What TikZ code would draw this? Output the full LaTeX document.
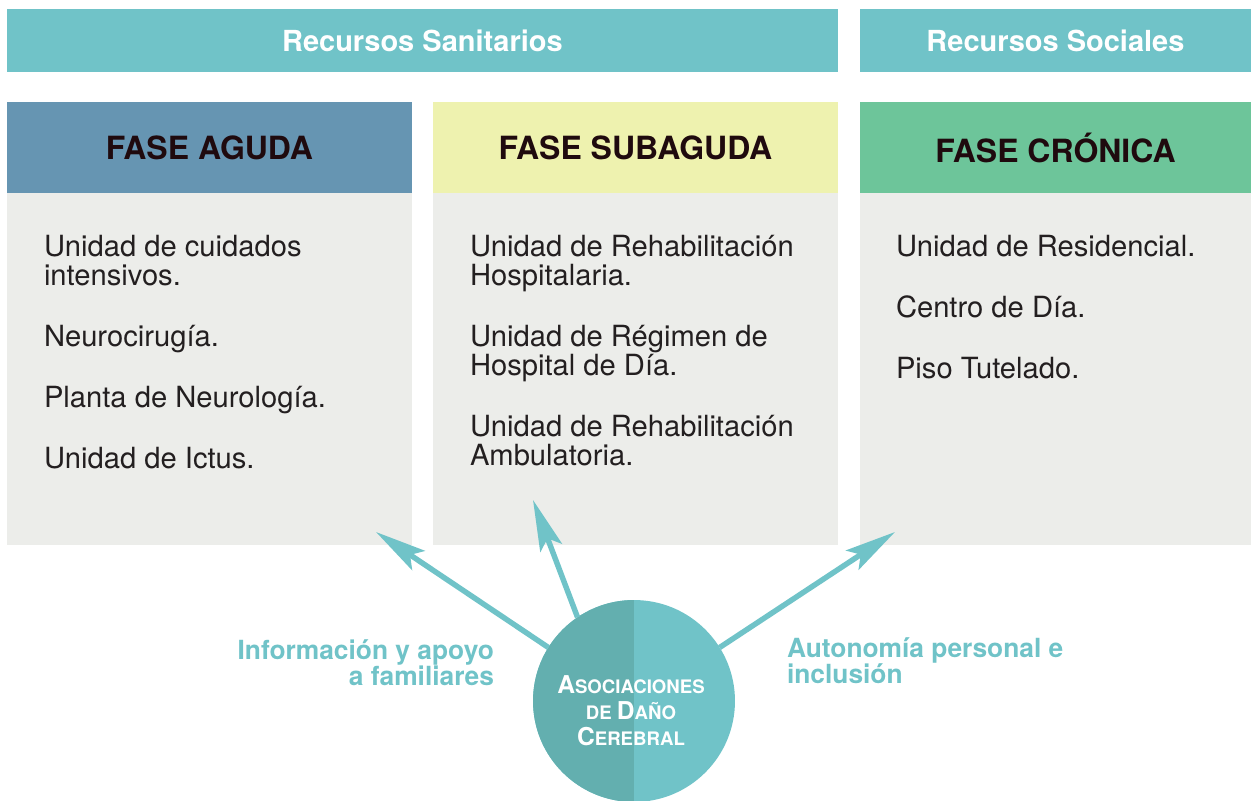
\documentclass[tikz,border=0pt]{standalone}
\usepackage{fontspec}
\setmainfont{TeX Gyre Heros}
\usetikzlibrary{arrows.meta}
\definecolor{barteal}{HTML}{70C3C8}
\definecolor{asocdark}{HTML}{63AFAF}
\definecolor{agudablue}{HTML}{6695B2}
\definecolor{subyellow}{HTML}{EEF2AF}
\definecolor{cronigreen}{HTML}{6DC59A}
\definecolor{bodygray}{HTML}{ECEDEA}
\definecolor{headink}{HTML}{1F0A0E}
\definecolor{bodyink}{HTML}{231F20}
\newcommand\scword[2]{{\fontsize{14}{14.8}\selectfont #1}{\fontsize{10.6}{14.8}\selectfont #2}}

\begin{document}
\begin{tikzpicture}[x=0.02cm,y=-0.02cm,
    every node/.style={inner sep=0pt,outer sep=0pt},
    bar/.style={fill=barteal,text=white,anchor=north west,minimum height=1.26cm,
        font=\fontsize{16.5}{18}\selectfont\bfseries},
    phase/.style={anchor=north west,minimum height=1.82cm,text=headink,
        font=\fontsize{18.2}{19}\selectfont\bfseries},
    panel/.style={fill=bodygray,anchor=north west,minimum height=7.04cm},
    items/.style={anchor=north west,align=left,text=bodyink,
        font=\fontsize{16.6}{16.5}\selectfont},
    side/.style={text=barteal,font=\fontsize{15}{14.8}\selectfont\bfseries},
    flow/.style={draw=barteal,line width=3.1pt,
        -{Stealth[length=1.02cm,width=0.46cm,inset=0.2cm]}}]
  \useasboundingbox (0,0) rectangle (1252,801);
  \clip (0,0) rectangle (1252,801);

  % resources
  \node[bar,minimum width=16.62cm] (sanit) at (7,9) {Recursos Sanitarios};
  \node[bar,minimum width=7.82cm] (social) at (860,9) {Recursos Sociales};

  % phases
  \node[phase,fill=agudablue,minimum width=8.1cm] (aguda) at (7,102) {FASE AGUDA};
  \node[phase,fill=subyellow,minimum width=8.1cm] (subaguda) at (433,102) {FASE SUBAGUDA};
  \node[phase,fill=cronigreen,minimum width=7.82cm] (cronica) at (860,102) {FASE CRÓNICA};

  \node[panel,minimum width=8.1cm] (agudabox) at (aguda.south west) {};
  \node[panel,minimum width=8.1cm] (subagudabox) at (subaguda.south west) {};
  \node[panel,minimum width=7.82cm] (cronicabox) at (cronica.south west) {};

  \node[items] (agudalist) at (44,235) {Unidad de cuidados\\intensivos.\\[0.64cm]
      Neurocirugía.\\[0.64cm]Planta de Neurología.\\[0.64cm]Unidad de Ictus.};
  \node[items] (subagudalist) at (470,235) {Unidad de Rehabilitación\\Hospitalaria.\\[0.64cm]
      Unidad de Régimen de\\Hospital de Día.\\[0.64cm]
      Unidad de Rehabilitación\\Ambulatoria.};
  \node[items] (cronicalist) at (896,235) {Unidad de Residencial.\\[0.64cm]
      Centro de Día.\\[0.64cm]Piso Tutelado.};

  % associations
  \node[circle,minimum size=4.04cm,fill=barteal,
      path picture={\fill[asocdark] (path picture bounding box.south west)
          rectangle (path picture bounding box.north);}] (asoc) at (634,701) {};
  \node[align=center,text=white,font=\bfseries\fontsize{10.6}{14.8}\selectfont] (asoctxt) at (631,711)
      {\scword{A}{SOCIACIONES}\\\scword{}{DE }\scword{D}{AÑO}\\\scword{C}{EREBRAL}};

  \coordinate (tipA) at (376,532);
  \coordinate (tipB) at (533,500);
  \coordinate (tipC) at (895,532);
  \draw[flow] (asoc.148) -- (tipA);
  \draw[flow] (asoc.124) -- (tipB);
  \draw[flow] (asoc.32) -- (tipC);

  \node[side,align=right,anchor=north east] (apoyo) at (494,640)
      {Información y apoyo\\a familiares};
  \node[side,align=left,anchor=north west] (autonomia) at (787,638)
      {Autonomía personal e\\inclusión};
\end{tikzpicture}
\end{document}
